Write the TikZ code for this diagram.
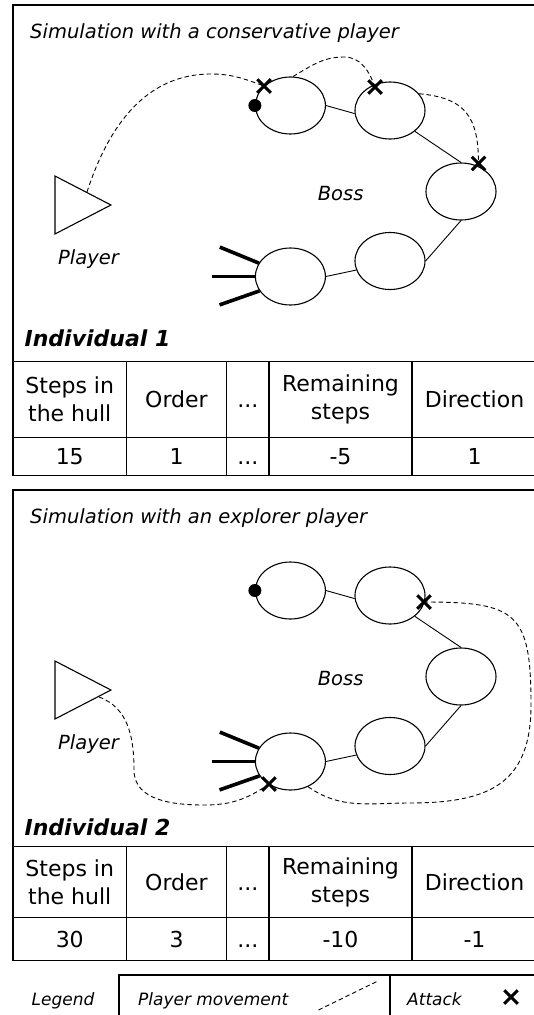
\documentclass[tikz,border=0pt]{standalone}
\usepackage{fontspec}
\setmainfont{DejaVu Sans}
\usetikzlibrary{shapes.geometric,shapes.misc}

\begin{document}
\begin{tikzpicture}[x=1pt,y=1pt,semithick,
                    font=\fontsize{19.5}{23}\selectfont\itshape]
  \tikzstyle{seg}=[ellipse,draw,minimum width=70pt,minimum height=57pt,
                   inner sep=0pt,line width=1.1pt]
  \tikzstyle{bone}=[line width=0.9pt]
  \tikzstyle{leg}=[line width=3.6pt]
  \tikzstyle{head}=[circle,fill=black,minimum size=13pt,inner sep=0pt]
  \tikzstyle{attack}=[cross out,draw,line width=3pt,minimum size=10.5pt,
                      inner sep=0pt]
  \tikzstyle{move}=[line width=0.9pt,dash pattern=on 4.5pt off 3pt]
  \tikzstyle{player}=[isosceles triangle,isosceles triangle stretches,draw,
                      line width=1.1pt,minimum width=58pt,minimum height=56pt,
                      inner sep=0pt,anchor=apex]
  \tikzstyle{frame}=[line width=1.4pt]
  \tikzstyle{cell}=[align=center,font=\fontsize{22}{28}\selectfont]
  \tikzstyle{indiv}=[anchor=base west,font=\fontsize{22}{26}\selectfont\bfseries\itshape]
  \tikzstyle{small}=[font=\fontsize{17}{20}\selectfont\itshape]

  \useasboundingbox (0,0) rectangle (534,-1015);

  % conservative player
  \draw[frame] (13,-5) rectangle (540,-475.7);
  \node[anchor=base west] (sim1) at (26.6,-38.3) {Simulation with a conservative player};

  \node[seg] (b1) at (290.4,-105.5) {};
  \node[seg] (b2) at (390,-110.5) {};
  \node[seg] (b3) at (461,-191.5) {};
  \node[seg] (b4) at (390,-261) {};
  \node[seg] (b5) at (290.4,-276.5) {};
  \node[player] (p1) at (112.4,-205) {};
  \node[anchor=base] (pl1) at (88.5,-264) {Player};
  \node[anchor=base] (boss1) at (340.6,-200) {Boss};

  \path[bone] (b1.east) edge (b2.185)
              (b2.-40) edge (b3.north)
              (b3.south) edge (b4.east)
              (b4.195) edge (b5.east);
  \draw[leg] (b5.157) -- ++(-39,16);
  \draw[leg] (b5.west) -- ++(-42.5,0);
  \draw[leg] (b5.205) -- ++(-40,-14);
  \node[head] (h1) at (b1.west) {};

  \node[attack] (x1) at (264,-86) {};
  \node[attack] (x2) at (375,-87) {};
  \node[attack] (x3) at (478.5,-163.5) {};
  \coordinate (s1) at (87,-192);
  \draw[move] (s1) to[out=72,in=180] (211,-74) to[out=0,in=160] (x1.center);
  \draw[move] (b1.85) to[out=30,in=180] (344,-57) to[out=0,in=110] (x2.center);
  \draw[move] (b2.30) to[out=-5,in=90,looseness=1.3] (x3.center);

  \node[indiv] (ind1) at (21,-346.7) {Individual 1};
  \draw[frame] (13,-361.7) -- (540,-361.7) (13,-437.3) -- (540,-437.3);
  \foreach \x in {126.5,226.5,269,412}
    \draw[frame] (\x,-361.7) -- (\x,-475.7);
  \node[cell] (c11) at (69.75,-399.5) {Steps in\\the hull};
  \node[cell,anchor=base] (c12) at (176.5,-407.5) {Order};
  \node[cell,anchor=base] (c13) at (247.75,-407.5) {...};
  \node[cell] (c14) at (340.5,-399.5) {Remaining\\steps};
  \node[cell,anchor=base] (c15) at (474.5,-407.5) {Direction};
  \node[cell,anchor=base] (v11) at (69.75,-464.5) {15};
  \node[cell,anchor=base] (v12) at (176.5,-464.5) {1};
  \node[cell,anchor=base] (v13) at (247.75,-464.5) {...};
  \node[cell,anchor=base] (v14) at (340.5,-464.5) {-5};
  \node[cell,anchor=base] (v15) at (474.5,-464.5) {1};

  % explorer player
  \draw[frame] (13,-490) rectangle (540,-960.5);
  \begin{scope}[yshift=-485pt]
    \node[anchor=base west] (sim2) at (26.6,-38.3) {Simulation with an explorer player};

    \node[seg] (e1) at (290.4,-105.5) {};
    \node[seg] (e2) at (390,-110.5) {};
    \node[seg] (e3) at (461,-191.5) {};
    \node[seg] (e4) at (390,-261) {};
    \node[seg] (e5) at (290.4,-276.5) {};
    \node[player] (p2) at (112.4,-205) {};
    \node[anchor=base] (pl2) at (88.5,-264) {Player};
    \node[anchor=base] (boss2) at (340.6,-200) {Boss};

    \path[bone] (e1.east) edge (e2.185)
                (e2.-40) edge (e3.north)
                (e3.south) edge (e4.east)
                (e4.195) edge (e5.east);
    \draw[leg] (e5.157) -- ++(-39,16);
    \draw[leg] (e5.west) -- ++(-42.5,0);
    \draw[leg] (e5.205) -- ++(-40,-14);
    \node[head] (h2) at (e1.west) {};

    \node[attack] (y1) at (424,-117) {};
    \node[attack] (y2) at (269,-299) {};
    \coordinate (s2) at (99,-212);
    \draw[move] (s2) to[out=-20,in=90] (134,-285) to[out=-90,in=180] (204,-320)
                to[out=0,in=-145] (y2.center);
    \draw[move] (e5.-55) to[out=-35,in=180] (409,-318)
                to[out=0,in=-90,looseness=1.3] (531,-220)
                to[out=90,in=0,looseness=1.6] (y1.center);
  \end{scope}

  \node[indiv] (ind2) at (21,-835) {Individual 2};
  \draw[frame] (13,-846.7) -- (540,-846.7) (13,-917.5) -- (540,-917.5);
  \foreach \x in {126.5,226.5,269,412}
    \draw[frame] (\x,-846.7) -- (\x,-960.5);
  \node[cell] (c21) at (69.75,-882) {Steps in\\the hull};
  \node[cell,anchor=base] (c22) at (176.5,-890) {Order};
  \node[cell,anchor=base] (c23) at (247.75,-890) {...};
  \node[cell] (c24) at (340.5,-882) {Remaining\\steps};
  \node[cell,anchor=base] (c25) at (474.5,-890) {Direction};
  \node[cell,anchor=base] (v21) at (69.75,-947) {30};
  \node[cell,anchor=base] (v22) at (176.5,-947) {3};
  \node[cell,anchor=base] (v23) at (247.75,-947) {...};
  \node[cell,anchor=base] (v24) at (340.5,-947) {-10};
  \node[cell,anchor=base] (v25) at (474.5,-947) {-1};

  % legend
  \draw[frame] (119,-1020) |- (540,-975);
  \draw[frame] (390,-975) -- (390,-1020);
  \node[small,anchor=base] (lg) at (63,-1005) {Legend};
  \node[small,anchor=base west] (lgm) at (134.5,-1005) {Player movement};
  \node[small,anchor=base west] (lga) at (403.6,-1005) {Attack};
  \draw[move] (318.5,-1010) -- (376.4,-981.7);
  \node[attack] (lgx) at (511,-997) {};
\end{tikzpicture}
\end{document}
